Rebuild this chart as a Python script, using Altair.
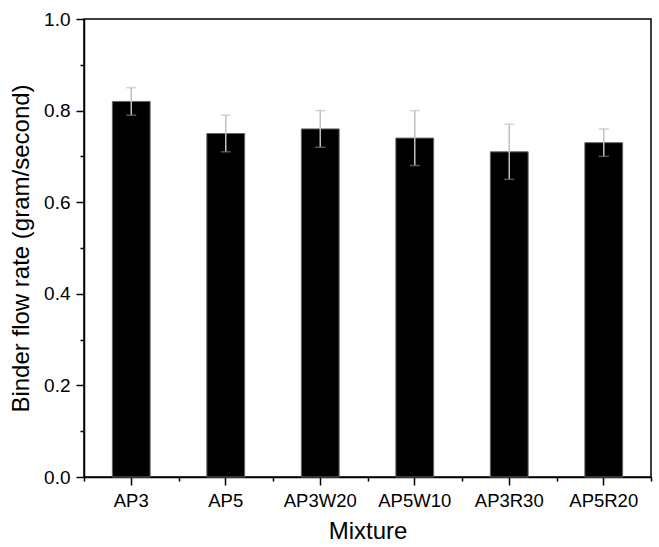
import altair as alt
import pandas as pd

mixtures = ["AP3", "AP5", "AP3W20", "AP5W10", "AP3R30", "AP5R20"]
flow_rate = [0.82, 0.75, 0.76, 0.74, 0.71, 0.73]
err = [0.03, 0.04, 0.04, 0.06, 0.06, 0.03]

df = pd.DataFrame({"Mixture": mixtures, "rate": flow_rate, "err": err})
df["lo"] = df["rate"] - df["err"]
df["hi"] = df["rate"] + df["err"]

FONT = "Liberation Sans"

xscale = alt.Scale(paddingInner=0.6, paddingOuter=0.3)
xenc = alt.X("Mixture:N", sort=mixtures, scale=xscale,
             axis=alt.Axis(title="Mixture", labelAngle=0, labelFontSize=18.5,
                           titleFontSize=24, titleFontWeight="normal",
                           tickSize=8, tickColor="black", domainColor="black",
                           labelColor="black", titleColor="black", labelPadding=6,
                           titlePadding=10, domainWidth=1.5, tickWidth=1.5, orient="bottom"))
yscale = alt.Scale(domain=[0, 1.0], nice=False)

bars = alt.Chart(df).mark_bar(color="black", stroke="#666", strokeWidth=1).encode(
    x=xenc,
    y=alt.Y("rate:Q", scale=yscale,
            axis=alt.Axis(title="Binder flow rate (gram/second)", values=[0, 0.2, 0.4, 0.6, 0.8, 1.0],
                          format=".1f", labelFontSize=19, titleFontSize=24,
                          titleFontWeight="normal", tickSize=8, tickColor="black",
                          domainColor="black", labelColor="black", titleColor="black",
                          grid=False, labelPadding=6, titlePadding=10,
                          domainWidth=1.5, tickWidth=1.5, orient="left")),
)

xe = alt.X("Mixture:N", sort=mixtures)
rules = alt.Chart(df).mark_rule(color="#c0c0c0", strokeWidth=1.5).encode(
    x=xe, y="lo:Q", y2="hi:Q")
cap_hi = alt.Chart(df).mark_tick(color="#c0c0c0", thickness=1.5, size=10, orient="horizontal").encode(
    x=xe, y="hi:Q")
cap_lo = alt.Chart(df).mark_tick(color="#777777", thickness=1.5, size=10, orient="horizontal").encode(
    x=xe, y="lo:Q")

main = alt.layer(bars, rules, cap_hi, cap_lo)

minor_y_vals = [0.1, 0.3, 0.5, 0.7, 0.9]
minor = alt.Chart(pd.DataFrame({"v": minor_y_vals})).mark_point(opacity=0).encode(
    y=alt.Y("v:Q", scale=yscale,
            axis=alt.Axis(values=minor_y_vals, labels=False, title=None, tickSize=4,
                          tickColor="black", domain=False, grid=False, tickWidth=1.5,
                          orient="left")),
)

minor_x_vals = [0, 1, 2, 3, 4, 5, 6]
minorx = alt.Chart(pd.DataFrame({"u": minor_x_vals})).mark_point(opacity=0).encode(
    x=alt.X("u:Q", scale=alt.Scale(domain=[0, 6], nice=False),
            axis=alt.Axis(values=minor_x_vals, labels=False, title=None, tickSize=4,
                          tickColor="black", domain=False, grid=False, tickWidth=1.5,
                          orient="bottom")),
)

chart = alt.layer(main, minor, minorx).resolve_scale(
    x="independent").resolve_axis(x="independent", y="independent").properties(
    width=567, height=458,
    padding={"left": 84, "top": 19, "right": 8, "bottom": 70},
    autosize="none",
).configure_view(stroke="black", strokeWidth=1.5).configure_axis(
    labelFont=FONT, titleFont=FONT
)

chart.save("out.html", embed_options={"renderer": "svg", "actions": False})
